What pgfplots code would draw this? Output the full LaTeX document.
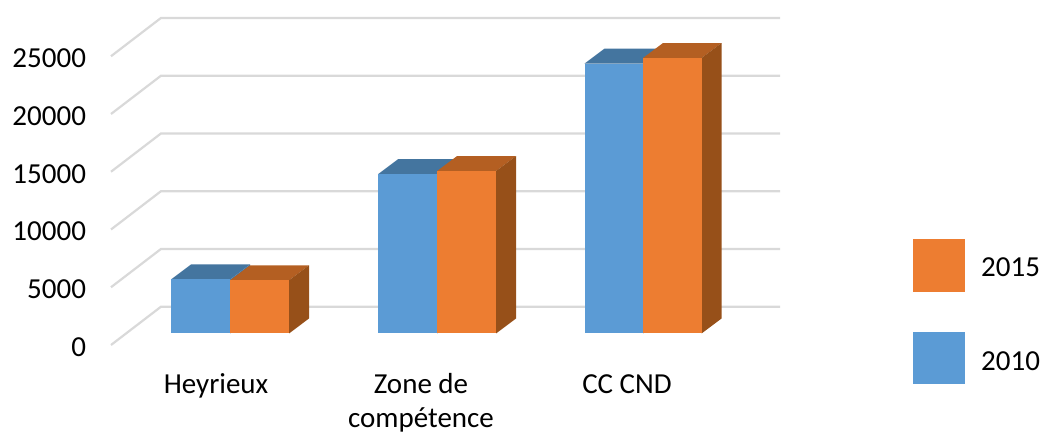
\documentclass[border=0pt]{standalone}
\usepackage{fontspec}
\setmainfont{Carlito}
\usepackage{pgfplots}
\pgfplotsset{compat=1.18}
\definecolor{bl}{HTML}{5B9BD5}
\definecolor{blt}{HTML}{44759F}
\definecolor{ors}{HTML}{975019}
\definecolor{or}{HTML}{ED7D31}
\definecolor{ort}{HTML}{B45F22}
\definecolor{grd}{HTML}{D9D9D9}
% one 3D column: left x, right x, value, front, top, side colour
\newcommand\column[6]{%
  \addplot[fill=#5,draw=none] coordinates {(#1,#3) (#1+20,#3+1299) (#2+20,#3+1299) (#2,#3)} --cycle;
  \addplot[fill=#6,draw=none] coordinates {(#2,0) (#2+20,1299) (#2+20,#3+1299) (#2,#3)} --cycle;
  \addplot[fill=#4,draw=none] coordinates {(#1,0) (#1,#3) (#2,#3) (#2,0)} --cycle;
}
\begin{document}
\begin{tikzpicture}[x=1pt,y=1pt]
\begin{axis}[
  at={(0,0)},anchor=south west,
  scale only axis,width=1043pt,height=432pt,
  xmin=0,xmax=1043,ymin=-8528,ymax=28874,
  axis line style={draw=none},
  major tick length=0pt,
  tick style={draw=none},
  clip=false,
  scaled y ticks=false,
  /pgf/number format/assume math mode=true,
  xtick={216,421,627},
  xticklabels={\strut Heyrieux,{\strut Zone de\\compétence},\strut CC CND},
  xticklabel style={font=\fontsize{29}{34}\selectfont,align=center,anchor=north,yshift=65.5pt},
  ytick={-996,4004,9004,14004,19004,24004},
  yticklabels={0,5000,10000,15000,20000,25000},
  yticklabel style={font=\fontsize{29}{34}\selectfont,anchor=east,xshift=89.5pt,yshift=-2pt},
]
\addplot[grd,line width=2.2pt] coordinates {(111,-996) (161,2320) (780,2320)};
\addplot[grd,line width=2.2pt] coordinates {(111,4004) (161,7320) (780,7320)};
\addplot[grd,line width=2.2pt] coordinates {(111,9004) (161,12320) (780,12320)};
\addplot[grd,line width=2.2pt] coordinates {(111,14004) (161,17320) (780,17320)};
\addplot[grd,line width=2.2pt] coordinates {(111,19004) (161,22320) (780,22320)};
\addplot[grd,line width=2.2pt] coordinates {(111,24004) (161,27320) (780,27320)};
\column{171}{230}{4680}{bl}{blt}{blt}
\column{230}{289}{4600}{or}{ort}{ors}
\column{378}{437}{13790}{bl}{blt}{blt}
\column{437}{496}{14060}{or}{ort}{ors}
\column{584.5}{643}{23370}{bl}{blt}{blt}
\column{643}{701.5}{23850}{or}{ort}{ors}
% legend swatches
\addplot[fill=or,draw=none] coordinates {(913,3590) (965,3590) (965,8180) (913,8180)} --cycle;
\addplot[fill=bl,draw=none] coordinates {(913,-4370) (965,-4370) (965,90) (913,90)} --cycle;
\node[font=\fontsize{29}{34}\selectfont,anchor=west,inner sep=0pt] at (axis cs:981,5760) {2015};
\node[font=\fontsize{29}{34}\selectfont,anchor=west,inner sep=0pt] at (axis cs:981,-2370) {2010};
\end{axis}
\end{tikzpicture}
\end{document}
